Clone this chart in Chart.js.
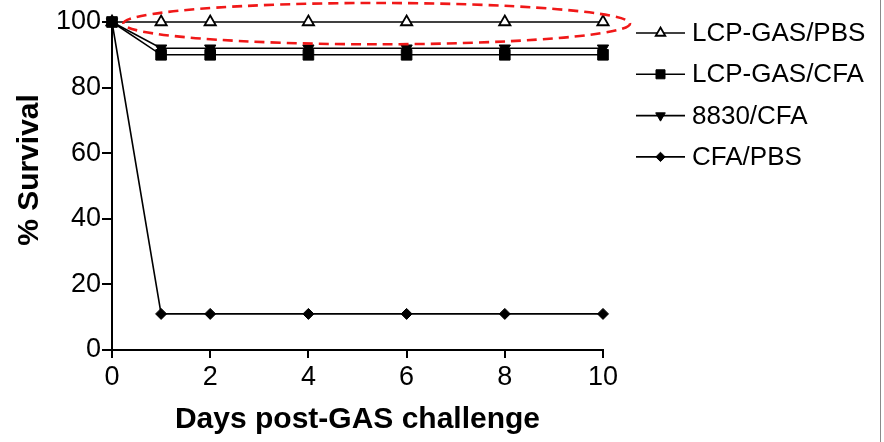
<!DOCTYPE html>
<html>
<head>
<meta charset="utf-8">
<script src="https://cdn.jsdelivr.net/npm/chart.js@4/dist/chart.umd.min.js"></script>
<style>
  html, body { margin: 0; padding: 0; background: #fff; }
  #wrap { position: relative; width: 884px; height: 442px; }
  #edge { position: absolute; left: 880px; top: 0; width: 1px; height: 442px; background: #8a8a8a; }
</style>
</head>
<body>
<div id="wrap">
  <canvas id="c" width="884" height="442"></canvas>
  <div id="edge"></div>
</div>
<script>
// ---- data ----
const days = [0, 1, 2, 4, 6, 8, 10];
const seriesNames = ['LCP-GAS/PBS', 'LCP-GAS/CFA', '8830/CFA', 'CFA/PBS'];
const lcpGasPbs = [100, 100, 100, 100, 100, 100, 100];
const lcpGasCfa = [100, 90, 90, 90, 90, 90, 90];
const s8830Cfa  = [100, 92, 92, 92, 92, 92, 92];
const cfaPbs    = [100, 11, 11, 11, 11, 11, 11];
const xTicks = [0, 2, 4, 6, 8, 10];
const yTicks = [0, 20, 40, 60, 80, 100];
const xTitle = 'Days post-GAS challenge';
const yTitle = '% Survival';
// highlight ellipse (data units)
const ellipseX = [0.23, 10.55];
const ellipseY = [93.2, 105.8];

const FONT = "'Liberation Sans', Arial, Helvetica, sans-serif";
const toXY = arr => arr.map((v, i) => ({ x: days[i], y: v }));

const styles = [
  { pointStyle: 'triangle', pointRadius: 6.5, pointRotation: 0, pointBackgroundColor: '#fff', pointBorderWidth: 1.8, order: 3 },
  { pointStyle: 'rect', pointRadius: 7.5, pointRotation: 0, pointBackgroundColor: '#000', pointBorderWidth: 1, order: 0 },
  { pointStyle: 'triangle', pointRadius: 6.5, pointRotation: 180, pointBackgroundColor: '#000', pointBorderWidth: 1, order: 1 },
  { pointStyle: 'rectRot', pointRadius: 5.5, pointRotation: 0, pointBackgroundColor: '#000', pointBorderWidth: 1, order: 2 }
];
const values = [lcpGasPbs, lcpGasCfa, s8830Cfa, cfaPbs];

const datasets = values.map((v, i) => Object.assign({
  label: seriesNames[i],
  data: toXY(v),
  borderColor: '#000',
  borderWidth: 1.6,
  pointBorderColor: '#000',
  tension: 0,
  clip: false,
  fill: false
}, styles[i]));

const extras = {
  id: 'extras',
  afterDraw(chart) {
    const ctx = chart.ctx;
    const xs = chart.scales.x, ys = chart.scales.y;
    const a = chart.chartArea;
    // red dashed ellipse
    const x0 = xs.getPixelForValue(ellipseX[0]), x1 = xs.getPixelForValue(ellipseX[1]);
    const y0 = ys.getPixelForValue(ellipseY[1]), y1 = ys.getPixelForValue(ellipseY[0]);
    ctx.save();
    ctx.strokeStyle = '#f01818';
    ctx.lineWidth = 2.6;
    ctx.setLineDash([10, 6]);
    ctx.beginPath();
    ctx.ellipse((x0 + x1) / 2, (y0 + y1) / 2, (x1 - x0) / 2, (y1 - y0) / 2, 0, 0, Math.PI * 2);
    ctx.stroke();
    ctx.restore();

    // y axis title
    ctx.save();
    ctx.translate(30, (a.top + a.bottom) / 2 - 16);
    ctx.rotate(-Math.PI / 2);
    ctx.font = 'bold 30px ' + FONT;
    ctx.fillStyle = '#000';
    ctx.textAlign = 'center';
    ctx.textBaseline = 'middle';
    ctx.fillText(yTitle, 0, 0);
    ctx.restore();

    // legend
    const lx = a.right + 33, ly = a.top + 11, gap = 41.3, len = 49;
    chart.data.datasets.forEach((ds, i) => {
      const y = ly + i * gap;
      ctx.save();
      ctx.strokeStyle = '#000';
      ctx.lineWidth = 1.6;
      ctx.beginPath();
      ctx.moveTo(lx, y);
      ctx.lineTo(lx + len, y);
      ctx.stroke();
      ctx.fillStyle = ds.pointBackgroundColor;
      ctx.strokeStyle = '#000';
      ctx.lineWidth = ds.pointBorderWidth;
      Chart.helpers.drawPoint(ctx, {
        pointStyle: ds.pointStyle,
        radius: ds.pointRadius * 0.85,
        rotation: ds.pointRotation,
        borderWidth: ds.pointBorderWidth
      }, lx + len / 2, y);
      ctx.fillStyle = '#000';
      ctx.font = '26px ' + FONT;
      ctx.textAlign = 'left';
      ctx.textBaseline = 'middle';
      ctx.fillText(ds.label, lx + len + 7, y + 1);
      ctx.restore();
    });
  }
};

new Chart(document.getElementById('c'), {
  type: 'line',
  data: { datasets },
  options: {
    responsive: false,
    animation: false,
    devicePixelRatio: 1,
    layout: { padding: { top: 22, right: 281, left: 0, bottom: 0 } },
    plugins: { legend: { display: false }, tooltip: { enabled: false } },
    scales: {
      x: {
        type: 'linear',
        min: 0, max: 10,
        afterFit(s) { s.height = 92; },
        afterBuildTicks(s) { s.ticks = xTicks.map(v => ({ value: v })); },
        grid: { drawOnChartArea: false, color: '#000', lineWidth: 2, tickLength: 8, tickWidth: 2 },
        border: { display: true, color: '#000', width: 2 },
        ticks: { color: '#000', font: { family: FONT, size: 27 }, padding: 3, maxRotation: 0 },
        title: { display: true, text: xTitle, color: '#000', font: { family: FONT, size: 30, weight: 'bold' }, padding: { top: 0, bottom: 4 } }
      },
      y: {
        type: 'linear',
        min: 0, max: 100,
        afterFit(s) { s.width = 112; },
        afterBuildTicks(s) { s.ticks = yTicks.map(v => ({ value: v })); },
        grid: { drawOnChartArea: false, color: '#000', lineWidth: 2, tickLength: 10, tickWidth: 2 },
        border: { display: true, color: '#000', width: 2 },
        ticks: { color: '#000', font: { family: FONT, size: 27 }, padding: 1 }
      }
    }
  },
  plugins: [extras]
});
</script>
</body>
</html>
